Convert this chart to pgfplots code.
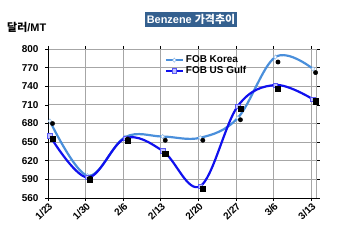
\documentclass[border=0pt]{standalone}
\usepackage{pgfplots}
\pgfplotsset{compat=1.18}
\usepackage{fontspec}
\setmainfont{Liberation Sans}
\newfontfamily\kr{Noto Sans CJK KR}
\definecolor{korea}{HTML}{4A8FDB}
\definecolor{gulf}{HTML}{1010EE}
\definecolor{titlebg}{HTML}{34608F}
\definecolor{gridc}{HTML}{A6A6A6}
\begin{document}
\begin{tikzpicture}[x=1bp,y=1bp]
\useasboundingbox (0,0) rectangle (350,246);
\node[fill=titlebg, text=white, font=\bfseries\fontsize{11}{12}\selectfont, inner xsep=2bp, inner ysep=1.5bp, minimum height=15bp, minimum width=92bp] at (191,226.5) {Benzene {\kr 가격추이}};
\node[anchor=west, font=\bfseries\fontsize{11}{12}\selectfont, inner sep=0pt] at (7,219) {{\kr 달러}/MT};
\begin{axis}[
  at={(48bp,48bp)}, anchor=south west,
  scale only axis, width=268.7bp, height=149bp,
  xmin=0, xmax=7.15, ymin=560, ymax=800,
  xtick={0,1,2,3,4,5,6,7},
  xticklabels={1/23,1/30,2/6,2/13,2/20,2/27,3/6,3/13},
  ytick={560,590,...,800},
  grid=major,
  major grid style={gridc, line width=0.8pt},
  axis line style={gridc, line width=0.8pt},
  tick align=outside, major tick length=3bp,
  tick style={black, line width=0.6pt},
  every tick label/.append style={font=\bfseries\fontsize{10}{11}\selectfont},
  /pgf/number format/assume math mode=true,
  xticklabel style={rotate=45, anchor=north east, inner sep=0.5pt},
  yticklabel style={xshift=-3bp},
  legend style={at={(0.43,0.975)}, anchor=north west, draw=none, fill=none,
    font=\bfseries\fontsize{10}{11}\selectfont, row sep=-2bp, inner sep=1bp},
  legend cell align=left,
  clip=false,
]
\addplot[korea, line width=2.2pt, smooth, tension=0.6, mark=diamond*, mark size=2.2pt, mark options={fill=white, draw=korea!60, line width=0.5pt}]
  coordinates {(0.05,684) (1.05,596) (2.05,658) (3.05,659) (4.05,657) (5.05,689) (6.05,787) (7.05,768)};
\addlegendentry{FOB Korea}
\addplot[gulf, line width=2.2pt, smooth, tension=0.6, mark=square*, mark size=2.2pt, mark options={fill=blue!25, draw=gulf!70, line width=0.6pt}]
  coordinates {(0.05,660) (1.05,593) (2.05,656) (3.05,636) (4.05,579) (5.05,708) (6.05,742) (7.05,719)};
\addlegendentry{FOB US Gulf}
\addplot[only marks, black, mark=*, mark size=2.2pt, forget plot]
  coordinates {(0.12,680) (1.12,592) (2.12,655) (3.12,653) (4.12,653) (5.12,686) (6.12,779) (7.12,762)};
\addplot[only marks, black, mark=square*, mark size=2.6pt, forget plot]
  coordinates {(0.12,655) (1.12,589) (2.12,652) (3.12,631) (4.12,575) (5.12,704) (6.12,736) (7.12,716)};
\draw[black, line width=0.8pt] (rel axis cs:0,1) -- (rel axis cs:0,0) -- (rel axis cs:1,0);
\end{axis}
\end{tikzpicture}
\end{document}
